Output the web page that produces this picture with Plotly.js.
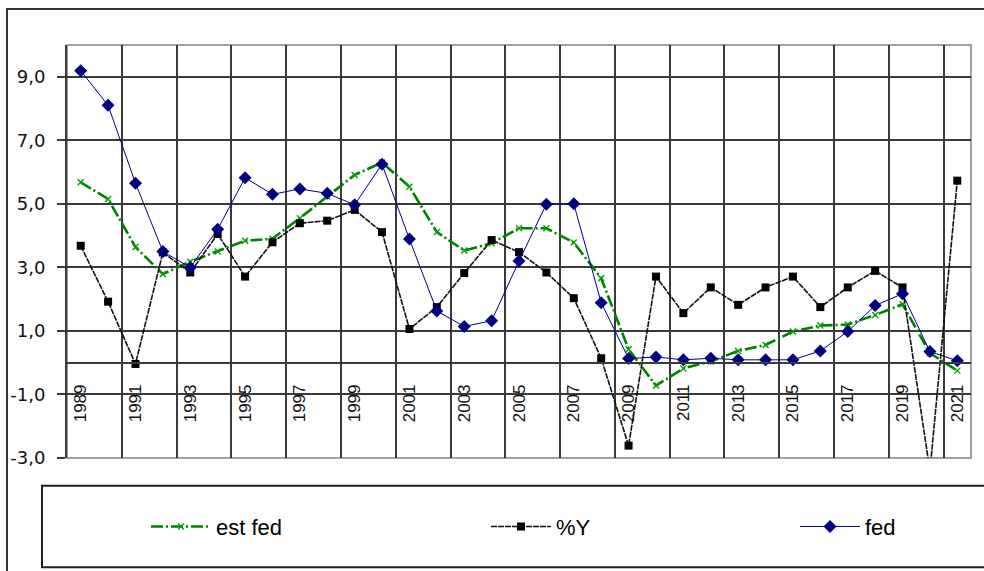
<!DOCTYPE html>
<html>
<head>
<meta charset="utf-8">
<script src="https://cdn.plot.ly/plotly-3.0.1.min.js"></script>
<style>
html,body{margin:0;padding:0;background:#fff;}
#chart{width:984px;height:571px;}
</style>
</head>
<body>
<div id="chart"></div>
<script>
// ---- data ----
var years = [1989,1990,1991,1992,1993,1994,1995,1996,1997,1998,1999,2000,2001,2002,2003,2004,2005,2006,2007,2008,2009,2010,2011,2012,2013,2014,2015,2016,2017,2018,2019,2020,2021];
var estFed = [5.68,5.15,3.64,2.79,3.18,3.5,3.84,3.9,4.55,5.23,5.91,6.3,5.54,4.11,3.53,3.76,4.23,4.23,3.78,2.66,0.42,-0.72,-0.18,0.04,0.37,0.56,0.98,1.17,1.2,1.5,1.84,0.3,-0.25];
var pctY = [3.68,1.92,-0.04,3.47,2.84,4.05,2.71,3.79,4.39,4.47,4.81,4.11,1.06,1.75,2.82,3.86,3.48,2.84,2.03,0.14,-2.61,2.71,1.56,2.37,1.82,2.37,2.71,1.75,2.37,2.89,2.37,-3.4,5.73];
var fed = [9.19,8.1,5.65,3.5,3.0,4.2,5.82,5.3,5.47,5.33,4.97,6.25,3.89,1.63,1.14,1.32,3.2,4.99,5.0,1.89,0.13,0.18,0.09,0.14,0.09,0.09,0.09,0.37,0.98,1.8,2.17,0.35,0.06];
var seriesNames = ["est fed", "%Y", "fed"];
var yTickVals = [-3,-1,1,3,5,7,9];
var yTickText = ["-3,0","-1,0","1,0","3,0","5,0","7,0","9,0"];
var xTickYears = years.filter(function(y){ return y % 2 === 1; });

// ---- styling ----
var gridCol = "#3a3a3a";
var gridW = 2;
var xRange = [years[0] - 0.5, years[years.length-1] + 0.5];
var yRange = [-3, 10];
var gridX = xTickYears.map(function(y){ return y - 0.5; });

var traces = [
  {
    x: years, y: estFed, name: seriesNames[0], type: "scatter", mode: "lines+markers",
    line: {color: "#008000", width: 2.6, dash: "12px,3px,2px,3px"},
    marker: {symbol: "x-thin-open", size: 6, color: "#00a000", line: {color: "#00a000", width: 1.4}},
    legend: "legend"
  },
  {
    x: years, y: pctY, name: seriesNames[1], type: "scatter", mode: "lines+markers",
    line: {color: "#111111", width: 1.6, dash: "6px,1px"},
    marker: {symbol: "square", size: 8, color: "#000000"},
    legend: "legend2"
  },
  {
    x: years, y: fed, name: seriesNames[2], type: "scatter", mode: "lines+markers",
    line: {color: "#000080", width: 1},
    marker: {symbol: "diamond", size: 10, color: "#000080"},
    legend: "legend3"
  }
];

var pl = 67, pr = 971, pt = 45, pb = 458.3;
var pw = pr - pl, ph = pb - pt;
function px2x(p){ return (p - pl) / pw; }
function px2y(p){ return (pb - p) / ph; }

var legFont = {family: "Liberation Sans, Arial, sans-serif", size: 22, color: "#000"};
function leg(xpx){
  return {x: px2x(xpx), xanchor: "left", y: px2y(527), yanchor: "middle",
          orientation: "h", bgcolor: "rgba(0,0,0,0)", borderwidth: 0,
          font: legFont, itemwidth: 60};
}

var layout = {
  width: 984, height: 571,
  margin: {l: pl, r: 984 - pr, t: pt, b: 571 - pb},
  paper_bgcolor: "#ffffff", plot_bgcolor: "#ffffff",
  showlegend: true,
  legend: leg(146),
  legend2: leg(486),
  legend3: leg(795),
  xaxis: {
    type: "linear", range: xRange, fixedrange: true,
    anchor: "free", position: (0 - yRange[0]) / (yRange[1] - yRange[0]),
    tickmode: "array", tickvals: xTickYears, ticktext: xTickYears.map(String),
    tickangle: -90, ticks: "", ticklabelstandoff: 14,
    tickfont: {family: "Liberation Sans, Arial, sans-serif", size: 17, color: "#111"},
    showgrid: false, zeroline: false,
    showline: true, linecolor: gridCol, linewidth: gridW,
    minor: {tickmode: "array", tickvals: gridX, showgrid: true, gridcolor: gridCol, gridwidth: gridW, ticks: ""}
  },
  yaxis: {
    range: yRange, fixedrange: true,
    tickmode: "array", tickvals: yTickVals, ticktext: yTickText,
    ticks: "outside", ticklen: 8, tickwidth: gridW, tickcolor: gridCol,
    ticklabelstandoff: 8,
    tickfont: {family: "DejaVu Sans, sans-serif", size: 18, color: "#111"},
    showgrid: true, gridcolor: gridCol, gridwidth: gridW,
    zeroline: false, showline: true, linecolor: gridCol, linewidth: gridW
  },
  shapes: [
    {type: "rect", xref: "paper", yref: "paper", x0: 0, x1: 1, y0: 0, y1: 1,
     line: {color: "#a0a0a0", width: 2}, layer: "between"},
    {type: "rect", xref: "paper", yref: "paper", x0: px2x(7), x1: 1.2, y0: -0.5, y1: px2y(9),
     line: {color: "#333333", width: 2}, layer: "below"},
    {type: "rect", xref: "paper", yref: "paper", x0: px2x(42), x1: 1.2, y0: px2y(567.7), y1: px2y(486),
     line: {color: "#222222", width: 2}, layer: "below"}
  ]
};

Plotly.newPlot("chart", traces, layout, {staticPlot: true, displayModeBar: false});
</script>
</body>
</html>
